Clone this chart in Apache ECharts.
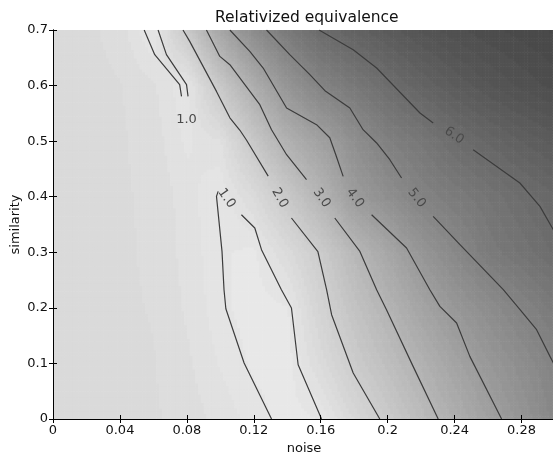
<!DOCTYPE html>
<html><head><meta charset="utf-8">
<script src="https://cdn.jsdelivr.net/npm/echarts@6/dist/echarts.min.js"></script>
<style>html,body{margin:0;padding:0;background:#fff}#c{width:553px;height:452px}</style>
</head><body><div id="c"></div>
<script>
// ---- data ----
const noiseGrid = [0,0.02,0.04,0.06,0.08,0.10,0.12,0.14,0.16,0.18,0.20,0.22,0.24,0.26,0.28,0.30];
const simGrid = [0,0.1,0.2,0.3,0.4,0.5,0.6,0.7];
const row00 = [1.45,1.45,1.45,1.43,1.35,1.22,1.07,0.92,0.99,1.56,2.13,2.71,3.26,3.80,4.31,4.85];
const row01 = [1.45,1.45,1.45,1.42,1.30,1.12,0.96,0.90,1.44,2.07,2.60,3.14,3.69,4.18,4.60,5.02];
const row02 = [1.45,1.45,1.44,1.40,1.25,1.04,0.90,0.97,1.75,2.43,3.03,3.66,4.19,4.61,5.03,5.40];
const row03 = [1.45,1.45,1.44,1.38,1.22,1.02,0.94,1.45,2.07,2.86,3.57,4.26,4.78,5.35,5.65,5.92];
const row04 = [1.45,1.45,1.43,1.38,1.20,0.99,1.44,2.18,2.98,4.00,4.54,5.04,5.33,5.62,5.91,6.15];
const row05 = [1.45,1.45,1.43,1.35,1.10,1.25,2.23,3.17,3.80,4.53,5.15,5.50,5.92,6.20,6.45,6.65];
const row06 = [1.45,1.45,1.42,1.30,1.00,2.22,3.30,4.29,5.00,5.46,5.92,6.30,6.60,6.85,7.05,7.20];
const row07 = [1.45,1.45,1.35,0.97,2.15,3.60,4.65,5.40,6.00,6.35,6.65,6.90,7.10,7.25,7.35,7.45];
const valueRows = [row00,row01,row02,row03,row04,row05,row06,row07];

// contour polylines [noise, similarity]
const c1TopLeft  = [[0.0545,0.70],[0.0608,0.6556],[0.0757,0.6016],[0.0768,0.5805]];
const c1TopRight = [[0.0628,0.70],[0.0678,0.6556],[0.0798,0.6016],[0.0807,0.5805]];
const c1LowLeft  = [[0.1306,0],[0.1142,0.1008],[0.1033,0.1985],[0.1022,0.2327],[0.1010,0.3016],[0.0977,0.4006],[0.0987,0.4096]];
const c1LowRight = [[0.1126,0.3676],[0.1206,0.3437],[0.1246,0.3047],[0.1365,0.2327],[0.1425,0.1997],[0.1465,0.0977],[0.1605,0]];
const c2Upper = [[0.0777,0.70],[0.0817,0.6795],[0.0977,0.5895],[0.1057,0.542],[0.1116,0.520],[0.1156,0.502],[0.1286,0.437]];
const c2Lower = [[0.1425,0.3617],[0.1583,0.301],[0.1635,0.2327],[0.1665,0.1877],[0.1794,0.0828],[0.1953,0]];
const c3Upper = [[0.0917,0.70],[0.0997,0.6525],[0.1057,0.6376],[0.1236,0.5656],[0.1306,0.5206],[0.1396,0.4756],[0.1515,0.4306]];
const c3Lower = [[0.1684,0.3617],[0.1834,0.3016],[0.1934,0.2327],[0.1993,0.1967],[0.2152,0.0947],[0.2302,0]];
const c4Upper = [[0.1057,0.70],[0.1176,0.6615],[0.1256,0.6316],[0.1396,0.5597],[0.1575,0.5296],[0.1654,0.5062],[0.1690,0.4756],[0.1734,0.4366]];
const c4Lower = [[0.1904,0.3676],[0.2113,0.3077],[0.2252,0.2327],[0.2312,0.2026],[0.2412,0.1728],[0.2491,0.1127],[0.2681,0]];
const c5Upper = [[0.1276,0.70],[0.1415,0.6556],[0.1535,0.6196],[0.1625,0.5908],[0.1774,0.5597],[0.1853,0.5206],[0.1934,0.4967],[0.2013,0.4666],[0.2083,0.4337]];
const c5Lower = [[0.2272,0.3646],[0.2432,0.3137],[0.2691,0.2327],[0.2791,0.1967],[0.2890,0.1607],[0.2970,0.1127],[0.30,0.095]];
const c6Upper = [[0.1590,0.70],[0.1794,0.6646],[0.1934,0.6316],[0.2193,0.5507],[0.2272,0.5327]];
const c6Lower = [[0.2511,0.4846],[0.2790,0.4247],[0.2910,0.3826],[0.2990,0.3406],[0.30,0.337]];
const contourLines = [c1TopLeft,c1TopRight,c1LowLeft,c1LowRight,c2Upper,c2Lower,c3Upper,c3Lower,c4Upper,c4Lower,c5Upper,c5Lower,c6Upper,c6Lower];

// contour labels: position and text
const labelPos = [[0.0798,0.5386],[0.1037,0.397],[0.1355,0.3977],[0.1605,0.3977],[0.1804,0.3977],[0.2173,0.3977],[0.2397,0.510]];
const labelText = ['1.0','1.0','2.0','3.0','4.0','5.0','6.0'];
const labelAngle = [0,-55,-60,-55,-53,-52,-35];

// ---- chart ----
const FONT = 'DejaVu Sans';
function grayOf(v){
  const step = 0.14;
  const q = Math.floor((v - 0.85) / step) * step + 0.85 + step / 2;
  let g = Math.round(232 - 24.5 * (q - 0.9));
  g = Math.max(0, Math.min(255, g));
  return 'rgb(' + g + ',' + g + ',' + g + ')';
}
const cells = [];
for (let j = 0; j < simGrid.length - 1; j++)
  for (let i = 0; i < noiseGrid.length - 1; i++)
    cells.push([noiseGrid[i], simGrid[j], i, j]);

const chart = echarts.init(document.getElementById('c'), null, {renderer: 'canvas'});
const series = [{
  type: 'custom', coordinateSystem: 'cartesian2d', xAxisIndex: 0, yAxisIndex: 0,
  z: 1, silent: true, clip: true,
  encode: {x: 0, y: 1},
  data: cells,
  renderItem: function (params, api) {
    const i = api.value(2), j = api.value(3);
    const p0 = api.coord([noiseGrid[i], simGrid[j]]);
    const p1 = api.coord([noiseGrid[i + 1], simGrid[j + 1]]);
    const v00 = valueRows[j][i], v10 = valueRows[j][i + 1], v01 = valueRows[j + 1][i], v11 = valueRows[j + 1][i + 1];
    const nx = 12, ny = 20;
    const w = (p1[0] - p0[0]) / nx, h = (p0[1] - p1[1]) / ny;
    const children = [];
    for (let a = 0; a < nx; a++) {
      for (let b = 0; b < ny; b++) {
        const tx = (a + 0.5) / nx, ty = (b + 0.5) / ny;
        const v = v00 * (1 - tx) * (1 - ty) + v10 * tx * (1 - ty) + v01 * (1 - tx) * ty + v11 * tx * ty;
        children.push({type: 'rect', shape: {x: p0[0] + a * w, y: p0[1] - (b + 1) * h, width: w + 0.6, height: h + 0.6},
          style: {fill: grayOf(v)}});
      }
    }
    return {type: 'group', children: children};
  }
}];
contourLines.forEach(function (pts) {
  series.push({type: 'line', data: pts, showSymbol: false, symbol: 'none', z: 3, silent: true,
    lineStyle: {color: '#3c3c3c', width: 1.2}, animation: false});
});
series.push({
  type: 'custom', coordinateSystem: 'cartesian2d', z: 4, silent: true,
  data: labelPos.map(function (p, k) { return [p[0], p[1], k]; }),
  encode: {x: 0, y: 1},
  renderItem: function (params, api) {
    const k = api.value(2);
    const p = api.coord([api.value(0), api.value(1)]);
    return {type: 'text', x: p[0], y: p[1], rotation: labelAngle[k] * Math.PI / 180,
      style: {text: labelText[k], fill: '#4a4a4a', font: '13px "' + FONT + '"', align: 'center', verticalAlign: 'middle'}};
  }
});

const axisLineStyle = {show: true, lineStyle: {color: '#000', width: 1}};
const tickStyle = {show: true, inside: true, length: 4, lineStyle: {color: '#000', width: 1}};
chart.setOption({
  animation: false,
  backgroundColor: '#fff',
  title: {text: 'Relativized equivalence', left: 210, top: 5,
    textStyle: {fontFamily: FONT, fontSize: 15.5, fontWeight: 'normal', color: '#111'}},
  grid: {left: 53, top: 30, width: 502, height: 389, containLabel: false, outerBoundsMode: 'none'},
  xAxis: [
    {type: 'value', min: 0, max: 0.3, interval: 0.04, position: 'bottom', z: 10,
      axisLine: axisLineStyle, axisTick: tickStyle, splitLine: {show: false},
      axisLabel: {fontFamily: FONT, fontSize: 13, color: '#111', margin: 5, showMaxLabel: false},
      name: 'noise', nameLocation: 'middle', nameGap: 20,
      nameTextStyle: {fontFamily: FONT, fontSize: 13, color: '#111'}},
    {type: 'value', min: 0, max: 0.3, interval: 0.04, position: 'top', z: 10,
      axisLine: axisLineStyle, axisTick: tickStyle, splitLine: {show: false}, axisLabel: {show: false}}
  ],
  yAxis: [
    {type: 'value', min: 0, max: 0.7, interval: 0.1, position: 'left', z: 10,
      axisLine: axisLineStyle, axisTick: tickStyle, splitLine: {show: false},
      axisLabel: {fontFamily: FONT, fontSize: 13, color: '#111', margin: 5},
      name: 'similarity', nameLocation: 'middle', nameGap: 31, nameMoveOverlap: false,
      nameTextStyle: {fontFamily: FONT, fontSize: 13, color: '#111'}},
    {type: 'value', min: 0, max: 0.7, interval: 0.1, position: 'right', z: 10,
      axisLine: axisLineStyle, axisTick: tickStyle, splitLine: {show: false}, axisLabel: {show: false}}
  ],
  series: series
});
</script></body></html>
